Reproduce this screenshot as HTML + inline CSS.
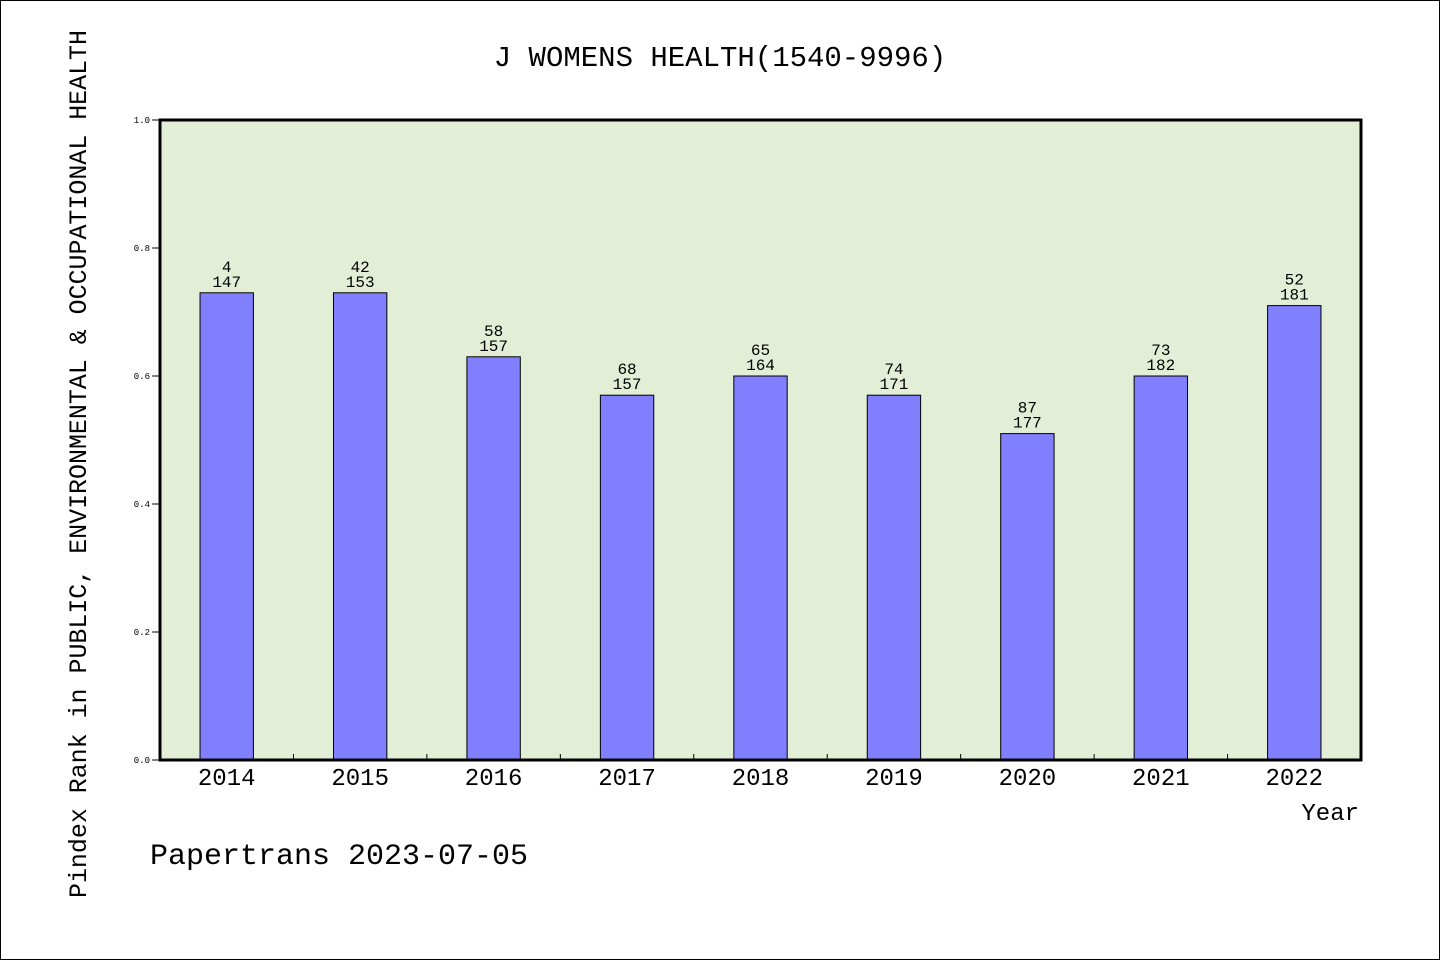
<!DOCTYPE html>
<html><head><meta charset="utf-8"><style>
body{margin:0;background:#fff}
svg{display:block}
text{font-family:"Liberation Mono","WenQuanYi Zen Hei",monospace}
</style></head><body>
<svg id="c" width="1440" height="960">
<rect x="0.5" y="0.5" width="1439" height="959" fill="#fff" stroke="#000"/>
<text x="720" y="66" text-anchor="middle" font-size="29">J WOMENS HEALTH(1540-9996)</text>
<text transform="translate(86,464) rotate(-90)" text-anchor="middle" font-size="25" textLength="868" lengthAdjust="spacingAndGlyphs">Pindex Rank in PUBLIC, ENVIRONMENTAL &amp; OCCUPATIONAL HEALTH</text>
<text x="1359" y="820" text-anchor="end" font-size="24">Year</text>
<text x="150" y="864" font-size="30">Papertrans 2023-07-05</text>
<rect x="160" y="120" width="1201" height="640" fill="#e2efd6"/>
<g id="marks"></g>
<rect x="160" y="120" width="1201" height="640" fill="none" stroke="#000" stroke-width="3"/>
</svg>
<script>
const years=["2014","2015","2016","2017","2018","2019","2020","2021","2022"];
const values=[0.73,0.73,0.63,0.57,0.60,0.57,0.51,0.60,0.71];
const ranks=["4","42","58","68","65","74","87","73","52"];
const totals=["147","153","157","157","164","171","177","182","181"];
const yTicks=[0,0.2,0.4,0.6,0.8,1.0];
const X0=160,W=1201,Y0=760,H=640;
const band=W/years.length;
const xc=i=>X0+band*(i+0.5);
const y=v=>Y0-v*H;
const g=document.getElementById('marks');
const NS="http://www.w3.org/2000/svg";
function mk(t,a){const e=document.createElementNS(NS,t);for(const k in a)e.setAttribute(k,a[k]);g.appendChild(e);return e;}
yTicks.forEach(v=>{
 const l=mk('line',{x1:X0-8,x2:X0,y1:y(v),y2:y(v),stroke:'#000'});
 
 
 const t=mk('text',{x:X0-10,y:y(v)+3,'text-anchor':'end','font-size':9});
 t.textContent=v.toFixed(1);
 
 
});
for(let i=1;i<years.length;i++){
 const l=mk('line',{x1:X0+band*i,x2:X0+band*i,y1:Y0,y2:Y0-6,stroke:'#000'});
 
 
}
const bw=band*0.4;
years.forEach((yr,i)=>{
 const b=mk('rect',{x:xc(i)-bw/2,y:y(values[i]),width:bw,height:Y0-y(values[i]),fill:'#8080ff',stroke:'#000','stroke-width':1});
 
 
 const t1=mk('text',{x:xc(i),y:y(values[i])-21,'text-anchor':'middle','font-size':16});
 t1.textContent=ranks[i];
 
 
 const t2=mk('text',{x:xc(i),y:y(values[i])-6,'text-anchor':'middle','font-size':16});
 t2.textContent=totals[i];
 
 
 const t=mk('text',{x:xc(i),y:785,'text-anchor':'middle','font-size':24});
 t.textContent=yr;
 
 
});
</script>
</body></html>
